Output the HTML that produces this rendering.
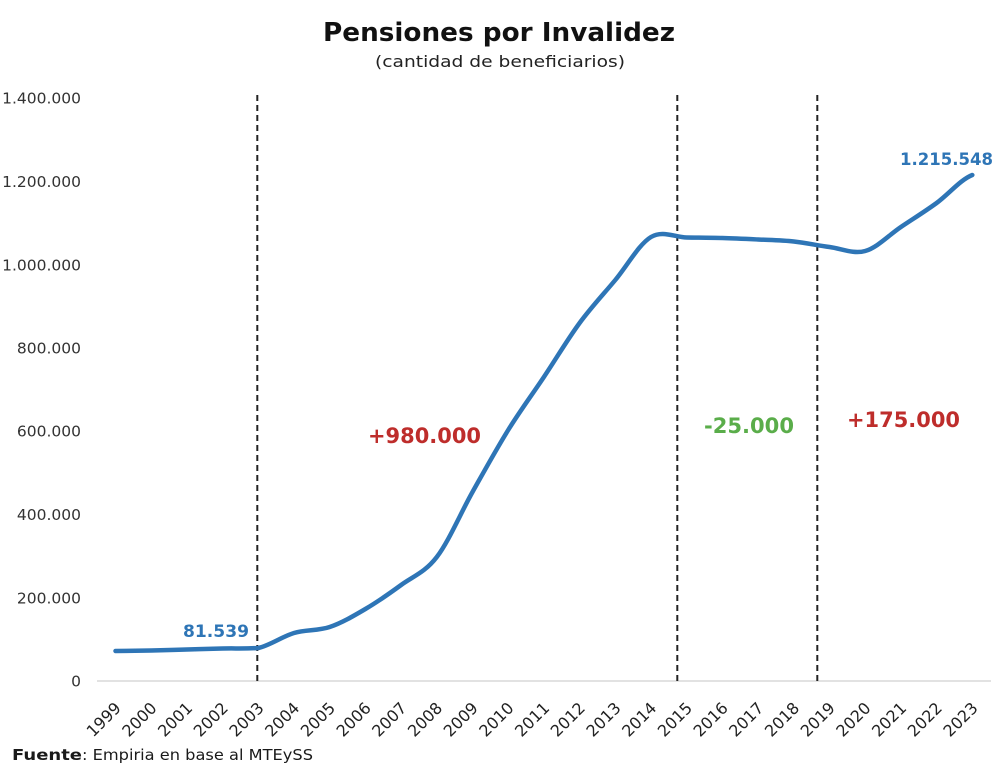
<!DOCTYPE html>
<html>
<head>
<meta charset="utf-8">
<style>
  html, body { margin: 0; padding: 0; background: #ffffff; }
  svg { display: block; }
  text { font-family: "DejaVu Sans", "Liberation Sans", sans-serif; }
</style>
</head>
<body>
<svg width="998" height="765" viewBox="0 0 998 765" xmlns="http://www.w3.org/2000/svg">
  <rect x="0" y="0" width="998" height="765" fill="#ffffff"/>

  <!-- Title -->
  <text x="499" y="41" text-anchor="middle" font-size="26" font-weight="bold" fill="#111" textLength="352" lengthAdjust="spacingAndGlyphs">Pensiones por Invalidez</text>
  <text x="500" y="67" text-anchor="middle" font-size="16" fill="#222" textLength="250" lengthAdjust="spacingAndGlyphs">(cantidad de beneficiarios)</text>

  <!-- Y axis labels -->
  <g font-size="15.5" fill="#333" text-anchor="end">
    <text x="81" y="103.5">1.400.000</text>
    <text x="81" y="187">1.200.000</text>
    <text x="81" y="270.5">1.000.000</text>
    <text x="81" y="353.5">800.000</text>
    <text x="81" y="436.5">600.000</text>
    <text x="81" y="520">400.000</text>
    <text x="81" y="603.5">200.000</text>
    <text x="81" y="686.5">0</text>
  </g>

  <!-- X axis line -->
  <line x1="97" y1="681" x2="991" y2="681" stroke="#d9d9d9" stroke-width="1.5"/>

  <!-- Dashed vertical lines -->
  <g stroke="#222" stroke-width="2" stroke-dasharray="6,4">
    <line x1="257.3" y1="95" x2="257.3" y2="681"/>
    <line x1="677.3" y1="95" x2="677.3" y2="681"/>
    <line x1="817.3" y1="95" x2="817.3" y2="681"/>
  </g>

  <!-- Data line -->
  <path fill="none" stroke="#2E75B6" stroke-width="4.5" stroke-linejoin="round" stroke-linecap="round"
    d="M115.5,651
       C127.4,650.92 139.3,650.75 151.2,650.5
       C163.1,650.25 175.0,649.83 186.9,649.5
       C198.8,649.17 210.7,648.75 222.6,648.5
       C234.5,648.25 246.4,648.8 258.3,648
       C270.2,645.42 282.1,636.5 294,633
       C305.9,629.5 317.8,631 329.7,627
       C341.6,623 353.5,616 365.4,609
       C377.3,602 389.2,593.67 401.1,585
       C413,576.33 424.9,572.5 436.8,557
       C448.7,541.5 460.6,513.17 472.5,492
       C484.4,470.83 496.3,449.17 508.2,430
       C520.1,410.83 532,394.83 543.9,377
       C555.8,359.17 567.7,339.17 579.6,323
       C591.5,306.83 603.4,294.33 615.3,280
       C627.2,265.67 639.1,244.08 651,237
       C662.9,229.92 674.8,237.33 686.7,237.5
       C698.6,237.67 710.5,237.67 722.4,238
       C734.3,238.33 746.2,238.92 758.1,239.5
       C770,240.08 781.9,240.25 793.8,241.5
       C805.7,242.75 817.6,245.42 829.5,247
       C841.4,248.58 853.3,254.33 865.2,251
       C877.1,247.67 889,235 900.9,227
       C912.8,219 924.7,211.67 936.6,203
       C948.5,194.33 960.4,179.67 972.3,175"/>

  <!-- Data labels -->
  <text x="183" y="637" font-size="17" font-weight="bold" fill="#2E75B6" textLength="66" lengthAdjust="spacingAndGlyphs">81.539</text>
  <text x="900" y="165" font-size="16.5" font-weight="bold" fill="#2E75B6" textLength="93" lengthAdjust="spacingAndGlyphs">1.215.548</text>

  <!-- Annotations -->
  <text x="368" y="443" font-size="21" font-weight="bold" fill="#BE2D2B" textLength="113" lengthAdjust="spacingAndGlyphs">+980.000</text>
  <text x="704" y="433" font-size="21" font-weight="bold" fill="#5AAD4A" textLength="90" lengthAdjust="spacingAndGlyphs">-25.000</text>
  <text x="847" y="427" font-size="21" font-weight="bold" fill="#BE2D2B" textLength="113" lengthAdjust="spacingAndGlyphs">+175.000</text>

  <!-- X axis labels (rotated) -->
  <g font-size="16" fill="#222" text-anchor="end">
    <text transform="translate(122,709) rotate(-45)">1999</text>
    <text transform="translate(157.7,709) rotate(-45)">2000</text>
    <text transform="translate(193.4,709) rotate(-45)">2001</text>
    <text transform="translate(229.1,709) rotate(-45)">2002</text>
    <text transform="translate(264.8,709) rotate(-45)">2003</text>
    <text transform="translate(300.5,709) rotate(-45)">2004</text>
    <text transform="translate(336.2,709) rotate(-45)">2005</text>
    <text transform="translate(371.9,709) rotate(-45)">2006</text>
    <text transform="translate(407.6,709) rotate(-45)">2007</text>
    <text transform="translate(443.3,709) rotate(-45)">2008</text>
    <text transform="translate(479,709) rotate(-45)">2009</text>
    <text transform="translate(514.7,709) rotate(-45)">2010</text>
    <text transform="translate(550.4,709) rotate(-45)">2011</text>
    <text transform="translate(586.1,709) rotate(-45)">2012</text>
    <text transform="translate(621.8,709) rotate(-45)">2013</text>
    <text transform="translate(657.5,709) rotate(-45)">2014</text>
    <text transform="translate(693.2,709) rotate(-45)">2015</text>
    <text transform="translate(728.9,709) rotate(-45)">2016</text>
    <text transform="translate(764.6,709) rotate(-45)">2017</text>
    <text transform="translate(800.3,709) rotate(-45)">2018</text>
    <text transform="translate(836,709) rotate(-45)">2019</text>
    <text transform="translate(871.7,709) rotate(-45)">2020</text>
    <text transform="translate(907.4,709) rotate(-45)">2021</text>
    <text transform="translate(943.1,709) rotate(-45)">2022</text>
    <text transform="translate(978.8,709) rotate(-45)">2023</text>
  </g>

  <!-- Footer -->
  <text x="12" y="760" font-size="15" font-weight="bold" fill="#1a1a1a" textLength="70" lengthAdjust="spacingAndGlyphs">Fuente</text>
  <text x="82" y="760" font-size="15" fill="#1a1a1a" textLength="231" lengthAdjust="spacingAndGlyphs">: Empiria en base al MTEySS</text>
</svg>
</body>
</html>
